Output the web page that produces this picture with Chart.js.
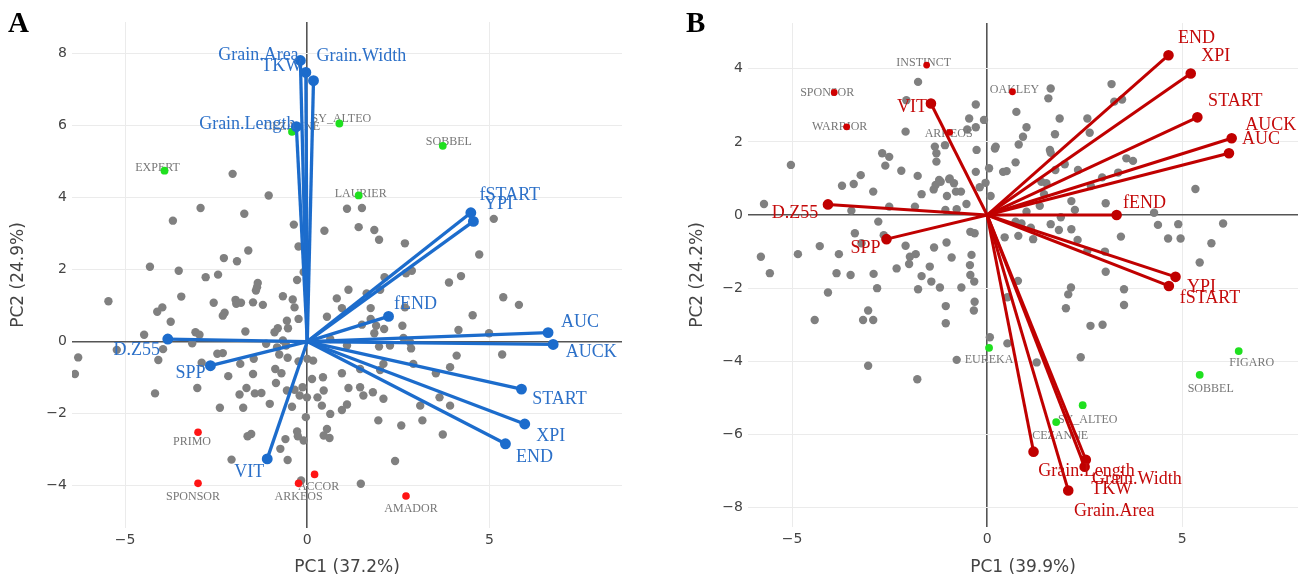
<!DOCTYPE html>
<html>
<head>
<meta charset="utf-8">
<script src="https://cdn.jsdelivr.net/npm/chart.js@4.4.1/dist/chart.umd.min.js"></script>
<style>
  html, body { margin: 0; padding: 0; background: #fff; width: 1309px; height: 584px; overflow: hidden; position: relative; }
  canvas { position: absolute; top: 0; }
  #cA { left: 0; }
  #cB { left: 680px; }
  .tag { position: absolute; top: 8px; font: bold 29px/29px 'Liberation Serif', serif; color: #000; }
</style>
</head>
<body>
<canvas id="cA" width="650" height="584"></canvas>
<canvas id="cB" width="629" height="584"></canvas>
<div class="tag" style="left:8px">A</div>
<div class="tag" style="left:686px">B</div>
<script>
  // ---------- panel A ----------
  const titleXA = 'PC1 (37.2%)'
  const titleYA = 'PC2 (24.9%)'
  const xTicksA = [-5, 0, 5]
  const yTicksA = [-4, -2, 0, 2, 4, 6, 8]

  const varsA = ['Grain.Area', 'TKW', 'Grain.Width', 'Grain.Length', 'fSTART', 'YPI', 'fEND', 'AUC', 'AUCK', 'START', 'XPI', 'END', 'D.Z55', 'SPP', 'VIT']
  const loadXA = [-0.19, -0.04, 0.17, -0.30, 4.49, 4.56, 2.23, 6.61, 6.75, 5.88, 5.97, 5.44, -3.83, -2.66, -1.10]
  const loadYA = [7.81, 7.48, 7.25, 5.97, 3.58, 3.34, 0.70, 0.25, -0.08, -1.32, -2.29, -2.84, 0.07, -0.67, -3.26]

  const greyXA = [-2.05, -1.06, -2.93, -1.73, -3.69, -0.37, -0.24, -1.62, -2.29, -1.93, -4.32, -3.53, -0.10, -2.45, -2.79, -0.28, -1.36, -1.38, -1.41, -3.46,
    -0.67, -0.40, -5.46, -2.57, -1.97, -1.95, -1.82, -1.49, -1.22, -0.35, -3.98, -4.12, -2.27, -2.32, -0.56, -0.24, -3.75, -0.81, -0.53, -0.90,
    -1.70, -3.07, -2.96, -4.48, -0.67, -3.16, -1.13, -3.96, -5.23, -6.29, -4.09, -2.47, -2.32, -1.47, -0.77, -1.84, -2.90, -0.54, -0.24, -6.38,
    -2.17, -1.49, -0.88, -0.71, -0.86, -3.02, -1.67, -4.18, -1.86, -1.44, -1.26, -0.56, -0.35, -0.21, -0.13, -0.01, -0.42, -1.03, -2.40, -1.76,
    -0.04, -0.28, -0.26, -0.10, -1.64, -1.54, -0.60, -0.74, -0.54, -2.08, -0.17, -0.58, -0.83, 0.16, 0.13, 0.43, 0.45, 0.28, 0.40, 0.63,
    0.45, 1.09, 1.50, 0.47, 1.41, 1.84, 1.97, 2.68, 5.12, 4.72, 4.22, 3.89, 2.87, 2.71, 2.12, 1.13, 0.81, 2.00, 5.38, 5.81,
    0.95, 1.74, 2.68, 0.54, 4.54, 1.74, 1.50, 1.89, 2.11, 2.61, 1.84, 4.15, 4.99, 2.64, 2.82, 1.09, 1.97, 2.27, 2.85, 0.63,
    4.10, 5.35, 0.00, 2.09, 2.00, 2.91, 1.45, 0.95, 3.92, 3.53, 1.13, 1.45, 1.54, 1.80, 2.09, 1.09, 0.95, 3.10, 3.63, 3.92,
    1.95, 2.58, 3.16, 0.54, 0.61, 3.72, 2.41, 1.47, 1.63]
  const greyYA = [4.66, 4.06, 3.71, 3.55, 3.36, 3.25, 2.64, 2.53, 2.32, 2.23, 2.08, 1.97, 1.93, 1.86, 1.79, 1.71, 1.63, 1.51, 1.42, 1.25,
    1.26, 1.17, 1.12, 1.08, 1.16, 1.05, 1.08, 1.09, 1.02, 0.95, 0.95, 0.83, 0.80, 0.72, 0.58, 0.63, 0.55, 0.37, 0.37, 0.26,
    0.28, 0.26, 0.19, 0.19, 0.03, -0.05, -0.06, -0.21, -0.23, -0.44, -0.51, -0.34, -0.32, -0.48, -0.36, -0.62, -0.59, -0.45, -0.55, -0.90,
    -0.96, -0.90, -0.76, -0.88, -1.15, -1.29, -1.29, -1.44, -1.47, -1.44, -1.43, -1.36, -1.34, -1.50, -1.27, -1.55, -1.81, -1.73, -1.84, -1.84,
    -2.10, -2.50, -2.63, -2.75, -2.63, -2.57, -2.71, -2.98, -3.29, -3.28, -3.86, -0.11, -0.16, -0.53, -1.04, -0.99, -1.36, -1.55, -1.78, -2.01,
    -2.61, 3.69, 3.71, 3.08, 3.18, 3.10, 2.83, 2.73, 3.41, 2.42, 1.82, 1.64, 1.97, 1.90, 1.79, 1.44, 1.20, 1.44, 1.23, 1.02,
    0.93, 0.93, 0.95, 0.69, 0.73, 0.63, 0.47, 0.44, 0.35, 0.44, 0.23, 0.32, 0.23, 0.10, -0.02, -0.11, -0.14, -0.11, -0.19, 0.07,
    -0.39, -0.36, -0.48, -0.62, -0.79, -0.62, -0.76, -0.88, -0.71, -0.88, -1.29, -1.27, -1.50, -1.41, -1.59, -1.75, -1.90, -1.78, -1.55, -1.78,
    -2.19, -2.33, -2.19, -2.43, -2.68, -2.58, -3.32, -3.95, 1.34]

  const redNamesA = ['PRIMO', 'SPONSOR', 'ARKEOS', 'ACCOR', 'AMADOR']
  const redXA = [-3.00, -3.00, -0.24, 0.20, 2.71]
  const redYA = [-2.52, -3.94, -3.94, -3.69, -4.29]

  const greenNamesA = ['EXPERT', 'CEZANNE', 'SY_ALTEO', 'SOBBEL', 'LAURIER']
  const greenXA = [-3.92, -0.42, 0.88, 3.72, 1.41]
  const greenYA = [4.75, 5.83, 6.06, 5.44, 4.06]

  // ---------- panel B ----------
  const titleXB = 'PC1 (39.9%)'
  const titleYB = 'PC2 (24.2%)'
  const xTicksB = [-5, 0, 5]
  const yTicksB = [-8, -6, -4, -2, 0, 2, 4]

  const varsB = ['END', 'XPI', 'START', 'AUCK', 'AUC', 'fEND', 'YPI', 'fSTART', 'D.Z55', 'SPP', 'VIT', 'Grain.Length', 'Grain.Width', 'TKW', 'Grain.Area']
  const loadXB = [4.65, 5.22, 5.39, 6.27, 6.20, 3.32, 4.83, 4.66, -4.08, -2.58, -1.44, 1.19, 2.53, 2.50, 2.08]
  const loadYB = [4.37, 3.87, 2.67, 2.10, 1.69, 0.00, -1.69, -1.94, 0.29, -0.66, 3.05, -6.47, -6.69, -6.88, -7.53]

  const greyXB = [-1.77, -2.07, -0.29, -0.46, -0.08, -0.29, -0.51, -2.09, 0.22, -0.27, -1.34, -1.30, -2.69, -2.51, -2.61, -5.03, -1.30, -2.20, -0.29, 0.05,
    -3.24, -1.78, -1.23, -0.97, -0.85, -1.32, -0.04, -3.72, -3.42, -2.92, -1.68, -1.03, -0.80, -0.67, -0.19, -0.53, -5.72, -2.51, -1.85, -1.07,
    -0.78, -3.48, -2.79, -0.43, -0.32, -3.39, -3.22, -4.29, -4.85, -5.80, -2.09, -1.36, -1.04, -1.83, -1.98, -0.91, -0.40, -3.80, -5.57, -3.86,
    -3.50, -2.91, -2.32, -2.00, -1.47, -0.44, -0.43, -1.68, -0.33, -1.43, -4.08, -2.82, -1.77, -1.21, -0.66, -4.42, -3.18, -2.92, -3.05, -1.06,
    -1.06, -0.32, -0.34, 0.07, -3.05, -0.78, -1.79, -1.08, -1.19, -1.37, -0.96, -2.65, 1.57, 0.75, 1.86, 2.57, 3.26, 3.46, 1.01, 0.92,
    1.74, 2.63, 0.20, 0.81, 1.61, 1.63, 3.57, 3.74, 0.73, 1.99, 1.75, 0.41, 0.50, 2.33, 5.34, 1.39, 1.52, 2.95, 3.36, 2.66,
    0.09, 1.46, 2.16, 1.35, 3.04, 1.01, 2.25, 4.28, 1.89, 0.73, 0.88, 1.63, 4.38, 4.90, 6.05, 1.12, 1.84, 2.16, 0.45, 0.80,
    1.18, 2.32, 3.43, 4.64, 4.96, 5.75, 2.57, 3.02, 5.45, 3.04, 0.79, 2.15, 2.08, 2.02, 3.51, 3.51, 0.52, 2.65, 2.96, 0.52,
    1.27, 2.40, 1.63, 3.19]
  const greyYB = [3.64, 3.14, 3.02, 2.64, 2.60, 2.40, 2.34, 2.28, 1.87, 1.78, 1.87, 1.69, 1.69, 1.59, 1.35, 1.37, 1.46, 1.21, 1.18, 1.28,
    1.09, 1.07, 0.96, 0.98, 0.87, 0.82, 0.88, 0.80, 0.85, 0.64, 0.57, 0.52, 0.64, 0.64, 0.76, 0.30, 0.30, 0.23, 0.23, 0.14,
    0.16, 0.12, -0.18, -0.46, -0.50, -0.50, -0.77, -0.85, -1.07, -1.14, -0.84, -0.89, -0.75, -1.07, -1.14, -1.16, -1.09, -1.07, -1.59, -1.59,
    -1.64, -1.61, -1.46, -1.34, -1.41, -1.37, -1.64, -1.67, -1.82, -1.82, -2.12, -2.00, -2.03, -1.98, -1.98, -2.87, -2.87, -2.87, -2.61, -2.49,
    -2.96, -2.37, -2.61, -3.34, -4.12, -3.96, -4.49, 1.91, 0.91, 0.70, 1.00, -0.55, 3.19, 2.82, 2.64, 2.64, 3.10, 3.16, 2.40, 2.14,
    2.21, 2.25, 1.82, 1.93, 1.78, 1.70, 1.55, 1.48, 1.44, 1.39, 1.23, 1.18, 1.20, 1.23, 0.71, 0.91, 0.87, 1.03, 1.16, 0.79,
    0.52, 0.57, 0.38, 0.25, 0.32, 0.09, 0.14, 0.06, -0.06, -0.18, -0.23, -0.25, -0.27, -0.25, -0.23, -0.35, -0.41, -0.39, -0.61, -0.57,
    -0.66, -0.68, -0.59, -0.64, -0.64, -0.77, -0.98, -1.00, -1.30, -1.55, -1.80, -1.98, -2.17, -2.55, -2.03, -2.46, -2.25, -3.03, -3.00, -3.51,
    -4.03, -3.89, 3.46, 3.58]

  const redNamesB = ['INSTINCT', 'SPONSOR', 'WARRIOR', 'ARKEOS', 'OAKLEY']
  const redXB = [-1.55, -3.92, -3.60, -0.96, 0.65]
  const redYB = [4.10, 3.35, 2.41, 2.26, 3.37]

  const greenNamesB = ['EUREKA', 'FIGARO', 'SOBBEL', 'SY_ALTEO', 'CEZANNE']
  const greenXB = [0.05, 6.45, 5.45, 2.45, 1.77]
  const greenYB = [-3.63, -3.72, -4.37, -5.20, -5.66]

  // label placement (pixel shift from the marker), kept apart from the data
  const shiftVarsA = [[-42, -5], [-24, -6], [48, -24], [-49, -2], [39, -17], [25, -17], [27, -12], [32, -10], [38, 8], [38, 10], [26, 12], [29, 13], [-31, 11], [-20, 8], [-18, 13]]
  const shiftRedA = [[-6, 10], [-5, 13], [0, 13], [4, 12], [5, 13]]
  const shiftGreenA = [[-7, -3], [0, -5], [2, -5], [6, -4], [2, -2]]
  const shiftVarsB = [[28, -17], [25, -17], [38, -16], [39, -13], [32, -14], [28, -12], [26, 10], [41, 12], [-33, 9], [-21, 9], [-19, 4], [53, 20], [51, 20], [27, 23], [46, 21]]
  const shiftRedB = [[-3, -2], [-7, 0], [-7, 0], [-1, 1], [2, -2]]
  const shiftGreenB = [[0, 12], [13, 12], [11, 14], [5, 15], [4, 14]]

  const pts = (xs, ys) => xs.map((x, i) => ({ x, y: ys[i] }))
  const fmt = v => (v < 0 ? '\u2212' + (-v) : String(v))

  function biplot (id, o) {
    const datasets = [
      { data: pts(o.greyX, o.greyY), backgroundColor: '#808080', pointRadius: 4.2, order: 9, role: 'grey' },
      { data: pts(o.redX, o.redY), backgroundColor: o.redDot, pointRadius: o.redR, order: 5 },
      { data: pts(o.greenX, o.greenY), backgroundColor: '#1fe01f', pointRadius: 3.9, order: 5 }
    ]
    o.vars.forEach((v, i) => {
      datasets.push({
        data: [{ x: 0, y: 0 }, { x: o.loadX[i], y: o.loadY[i] }],
        showLine: true,
        borderColor: o.vecColor,
        backgroundColor: o.vecColor,
        borderWidth: o.vecWidth,
        pointRadius: [0, 3.8],
        order: 1
      })
    })

    const labels = {
      id: 'labels',
      afterDatasetDraw (chart, args) {
        if (chart.data.datasets[args.index].role !== 'grey') return
        const { ctx, scales } = chart
        ctx.save()
        ctx.font = '12px "Liberation Serif", serif'
        ctx.fillStyle = '#777'
        ctx.textAlign = 'center'
        ctx.textBaseline = 'middle'
        const put = (names, xs, ys, sh) => names.forEach((n, i) => {
          ctx.fillText(n, scales.x.getPixelForValue(xs[i]) + sh[i][0], scales.y.getPixelForValue(ys[i]) + sh[i][1])
        })
        put(o.redNames, o.redX, o.redY, o.shiftRed)
        put(o.greenNames, o.greenX, o.greenY, o.shiftGreen)
        ctx.restore()
      },
      afterDatasetsDraw (chart) {
        const { ctx, scales } = chart
        ctx.save()
        ctx.font = '18px "Liberation Serif", serif'
        ctx.fillStyle = o.textColor
        ctx.textAlign = 'center'
        ctx.textBaseline = 'middle'
        o.vars.forEach((v, i) => {
          ctx.fillText(v, scales.x.getPixelForValue(o.loadX[i]) + o.shiftVars[i][0], scales.y.getPixelForValue(o.loadY[i]) + o.shiftVars[i][1])
        })
        ctx.restore()
      }
    }

    const grid = {
      drawTicks: false,
      color: c => (c.tick && c.tick.value === 0 ? '#555' : '#ebebeb'),
      lineWidth: c => (c.tick && c.tick.value === 0 ? 1.6 : 1)
    }
    const tickFont = { family: 'DejaVu Sans', size: 14 }
    const titleFont = { family: 'DejaVu Sans', size: 17 }

    return new Chart(document.getElementById(id), {
      type: 'scatter',
      data: { datasets },
      plugins: [labels],
      options: {
        responsive: false,
        animation: false,
        layout: { padding: o.pad },
        elements: { point: { borderWidth: 0, hoverRadius: 4 } },
        plugins: { legend: { display: false }, tooltip: { enabled: false } },
        scales: {
          x: {
            min: o.xMin,
            max: o.xMax,
            afterBuildTicks: s => { s.ticks = o.xTicks.map(value => ({ value })) },
            afterFit: s => { s.height = o.xH },
            ticks: { autoSkip: false, padding: 4, color: '#444', font: tickFont, callback: fmt },
            grid,
            border: { display: false },
            title: { display: true, text: o.titleX, color: '#444', font: titleFont, padding: { top: 0, bottom: 6 } }
          },
          y: {
            min: o.yMin,
            max: o.yMax,
            afterBuildTicks: s => { s.ticks = o.yTicks.map(value => ({ value })) },
            afterFit: s => { s.width = o.yW },
            ticks: { autoSkip: false, padding: 5, color: '#444', font: tickFont, callback: fmt },
            grid,
            border: { display: false },
            title: { display: true, text: o.titleY, color: '#444', font: titleFont, padding: { top: o.titlePad, bottom: 0 } }
          }
        }
      }
    })
  }

  biplot('cA', {
    vars: varsA, loadX: loadXA, loadY: loadYA,
    greyX: greyXA, greyY: greyYA,
    redNames: redNamesA, redX: redXA, redY: redYA,
    greenNames: greenNamesA, greenX: greenXA, greenY: greenYA,
    shiftVars: shiftVarsA, shiftRed: shiftRedA, shiftGreen: shiftGreenA,
    xTicks: xTicksA, yTicks: yTicksA, titleX: titleXA, titleY: titleYA,
    xMin: -6.46, xMax: 8.64, yMin: -5.18, yMax: 8.88,
    pad: { left: 0, top: 22, right: 28, bottom: 0 }, xH: 56, yW: 72, titlePad: 8,
    vecColor: '#1c6ccc', textColor: '#2c70c8', vecWidth: 3.3, redDot: '#ff1414', redR: 3.8
  })

  biplot('cB', {
    vars: varsB, loadX: loadXB, loadY: loadYB,
    greyX: greyXB, greyY: greyYB,
    redNames: redNamesB, redX: redXB, redY: redYB,
    greenNames: greenNamesB, greenX: greenXB, greenY: greenYB,
    shiftVars: shiftVarsB, shiftRed: shiftRedB, shiftGreen: shiftGreenB,
    xTicks: xTicksB, yTicks: yTicksB, titleX: titleXB, titleY: titleYB,
    xMin: -6.13, xMax: 7.97, yMin: -8.53, yMax: 5.25,
    pad: { left: 0, top: 23, right: 11, bottom: 0 }, xH: 57, yW: 68, titlePad: 7,
    vecColor: '#c00000', textColor: '#c40a0a', vecWidth: 3, redDot: '#d00000', redR: 3.4
  })
</script>
</body>
</html>
